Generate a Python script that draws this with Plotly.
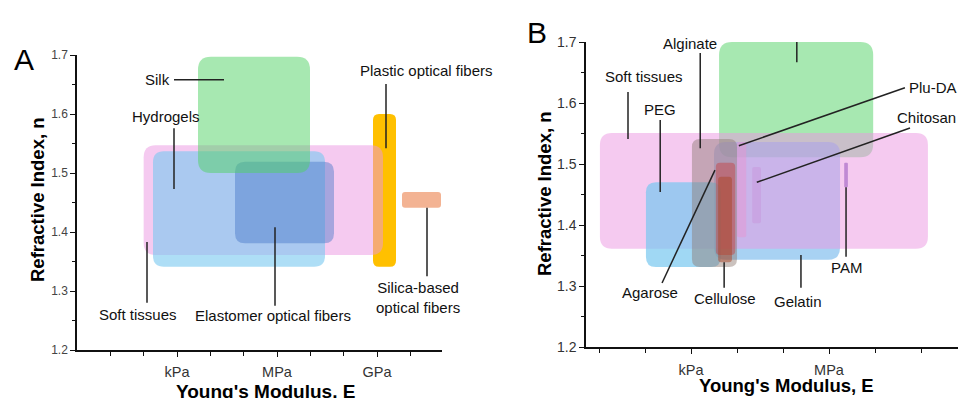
import plotly.graph_objects as go

W, H = 958, 398

# ---------------- DATA (E as log10(E / Pa), n = refractive index) ----------------
a_materials = ["Plastic optical fibers", "Soft tissues", "Hydrogels",
               "Elastomer optical fibers", "Silk", "Silica-based optical fibers"]
a_e_low = [8.88, 2.00, 2.28, 4.74, 3.63, 9.75]
a_e_high = [9.57, 9.18, 7.44, 7.71, 6.99, 10.92]
a_n_low = [1.341, 1.361, 1.341, 1.381, 1.500, 1.441]
a_n_high = [1.600, 1.547, 1.537, 1.519, 1.697, 1.468]

b_materials = ["Silk", "Gelatin", "Soft tissues", "PEG", "Alginate", "Agarose",
               "Cellulose", "Plu-DA", "Chitosan", "PAM"]
b_e_low = [3.61, 3.50, 1.02, 2.02, 3.02, 3.54, 3.59, 4.00, 4.33, 6.33]
b_e_high = [6.96, 6.24, 8.15, 3.65, 4.00, 3.96, 3.89, 4.20, 4.52, 6.41]
b_n_low = [1.511, 1.343, 1.361, 1.331, 1.331, 1.351, 1.339, 1.380, 1.403, 1.462]
b_n_high = [1.700, 1.536, 1.551, 1.470, 1.541, 1.502, 1.479, 1.536, 1.495, 1.502]

a_x_tickvals = [3, 6, 9]
a_x_ticktext = ["kPa", "MPa", "GPa"]
b_x_tickvals = [3, 6]
b_x_ticktext = ["kPa", "MPa"]
y_tickvals = [1.2, 1.3, 1.4, 1.5, 1.6, 1.7]
y_ticktext = ["1.2", "1.3", "1.4", "1.5", "1.6", "1.7"]

# ---------------- STYLE ----------------
style = {
    "Plastic optical fibers": ("rgb(255,192,0)", 6),
    "Soft tissues": ("rgba(235,150,225,0.5)", 12),
    "Hydrogels": ("rgba(120,200,240,0.6)", 11),
    "Elastomer optical fibers": ("rgba(70,120,200,0.45)", 10),
    "Silk": ("rgba(80,210,100,0.5)", 13),
    "Silica-based optical fibers": ("rgba(240,160,120,0.8)", 3),
    "Gelatin": ("rgba(110,180,235,0.6)", 12),
    "PEG": ("rgba(120,200,240,0.7)", 10),
    "Alginate": ("rgba(140,120,110,0.45)", 8),
    "Agarose": ("rgba(200,60,60,0.45)", 4),
    "Cellulose": ("rgba(170,70,40,0.5)", 3),
    "Plu-DA": ("rgba(230,150,210,0.5)", 2),
    "Chitosan": ("rgba(200,150,220,0.5)", 2),
    "PAM": ("rgba(170,110,200,0.7)", 1),
}

# axis geometry in pixels
A_X_PX = (77, 442); A_X_RANGE = (0.0, 10.95)
A_Y_PX = (55, 350)
B_X_PX = (586, 958); B_X_RANGE = (0.717, 8.804)
B_Y_PX = (42, 347)
Y_RANGE = (1.2, 1.7)


def dom_x(px):
    return [px[0] / W, px[1] / W]


def dom_y(py):
    return [1 - py[1] / H, 1 - py[0] / H]


def rounded(x0, x1, y0, y1, r_px, sx, sy):
    w_px = (x1 - x0) * sx
    h_px = (y1 - y0) * sy
    r = min(r_px, w_px / 2, h_px / 2)
    rx, ry = r / sx, r / sy
    return (f"M {x0+rx},{y0} L {x1-rx},{y0} Q {x1},{y0} {x1},{y0+ry} "
            f"L {x1},{y1-ry} Q {x1},{y1} {x1-rx},{y1} L {x0+rx},{y1} "
            f"Q {x0},{y1} {x0},{y1-ry} L {x0},{y0+ry} Q {x0},{y0} {x0+rx},{y0} Z")


fig = go.Figure()
fig.add_trace(go.Scatter(x=[], y=[], xaxis="x", yaxis="y", showlegend=False))
fig.add_trace(go.Scatter(x=[], y=[], xaxis="x2", yaxis="y2", showlegend=False))

shapes = []


def add_rects(names, lo, hi, nlo, nhi, xref, yref, xpx, xr, ypx):
    sx = (xpx[1] - xpx[0]) / (xr[1] - xr[0])
    sy = (ypx[1] - ypx[0]) / (Y_RANGE[1] - Y_RANGE[0])
    for nm, a, b, c, d in zip(names, lo, hi, nlo, nhi):
        col, r = style[nm]
        shapes.append(dict(type="path", xref=xref, yref=yref,
                           path=rounded(a, b, c, d, r, sx, sy),
                           fillcolor=col, line=dict(width=0), layer="above"))


add_rects(a_materials, a_e_low, a_e_high, a_n_low, a_n_high, "x", "y",
          A_X_PX, A_X_RANGE, A_Y_PX)
add_rects(b_materials, b_e_low, b_e_high, b_n_low, b_n_high, "x2", "y2",
          B_X_PX, B_X_RANGE, B_Y_PX)

# labels: (text, x, y, xanchor, leader line)
a_labels = [
    ("Silk", 2.40, 1.658, "center", (2.91, 1.658, 4.41, 1.658)),
    ("Hydrogels", 2.67, 1.595, "center", (2.91, 1.576, 2.91, 1.473)),
    ("Plastic optical fibers", 10.47, 1.673, "center", (9.27, 1.651, 9.27, 1.542)),
    ("Silica-based<br>optical fibers", 10.23, 1.289, "center", (10.5, 1.441, 10.5, 1.325)),
    ("Soft tissues", 1.83, 1.261, "center", (2.10, 1.383, 2.10, 1.280)),
    ("Elastomer optical fibers", 5.88, 1.259, "center", (5.94, 1.408, 5.94, 1.275)),
]
b_labels = [
    ("Soft tissues", 1.98, 1.643, "center", (1.63, 1.618, 1.63, 1.541)),
    ("PEG", 2.33, 1.589, "center", (2.33, 1.572, 2.33, 1.454)),
    ("Alginate", 2.98, 1.698, "center", (3.20, 1.682, 3.20, 1.526)),
    ("Silk", 5.30, 1.736, "center", (5.30, 1.723, 5.30, 1.667)),
    ("Plu-DA", 7.70, 1.626, "left", (7.65, 1.625, 4.04, 1.530)),
    ("Chitosan", 7.43, 1.577, "left", (7.76, 1.559, 4.43, 1.470)),
    ("Agarose", 2.11, 1.289, "center", (2.37, 1.305, 3.52, 1.490)),
    ("Cellulose", 3.74, 1.279, "center", (3.72, 1.339, 3.72, 1.297)),
    ("Gelatin", 5.33, 1.275, "center", (5.39, 1.351, 5.39, 1.297)),
    ("PAM", 6.39, 1.330, "center", (6.37, 1.462, 6.37, 1.348)),
]

annotations = []
FONT = "Liberation Sans, Arial, sans-serif"
for labels, xref, yref in ((a_labels, "x", "y"), (b_labels, "x2", "y2")):
    for text, x, y, anc, ln in labels:
        annotations.append(dict(text=text, x=x, y=y, xref=xref, yref=yref,
                                xanchor=anc, yanchor="middle", showarrow=False,
                                font=dict(family=FONT, size=15, color="#111")))
        shapes.append(dict(type="line", xref=xref, yref=yref,
                           x0=ln[0], y0=ln[1], x1=ln[2], y1=ln[3],
                           line=dict(color="#222", width=1.5), layer="above"))


def pap(px, py):
    return px / W, 1 - py / H


for txt, px, py, size, bold, ang in [
    ("A", 24, 60, 30, False, 0),
    ("B", 537, 33, 30, False, 0),
    ("Refractive Index, n", 38, 200, 18.5, True, -90),
    ("Refractive Index, n", 544, 194, 18.5, True, -90),
    ("Young's Modulus, E", 265, 391, 19, True, 0),
    ("Young's Modulus, E", 786, 385, 18.5, True, 0),
]:
    x, y = pap(px, py)
    annotations.append(dict(text=f"<b>{txt}</b>" if bold else txt, x=x, y=y,
                            xref="paper", yref="paper", xanchor="center",
                            yanchor="middle", showarrow=False, textangle=ang,
                            font=dict(family=FONT, size=size, color="#000")))

axis_common = dict(showgrid=False, zeroline=False, showline=True,
                   linecolor="#111", linewidth=1.5, ticks="outside",
                   tickcolor="#111", tickwidth=1.2, ticklen=5, automargin=False)

fig.update_layout(
    width=W, height=H, margin=dict(l=0, r=0, t=0, b=0, pad=0, autoexpand=False),
    paper_bgcolor="white", plot_bgcolor="rgba(0,0,0,0)",
    showlegend=False,
    xaxis=dict(domain=dom_x(A_X_PX), range=list(A_X_RANGE), anchor="y",
               tickvals=a_x_tickvals, ticktext=a_x_ticktext,
               tickfont=dict(family=FONT, size=14.5, color="#333"),
               ticklabelstandoff=3,
               minor=dict(tickvals=list(range(1, 11)), ticks="outside",
                          ticklen=4, tickcolor="#111", tickwidth=1.2),
               **axis_common),
    yaxis=dict(domain=dom_y(A_Y_PX), range=list(Y_RANGE), anchor="x",
               tickvals=y_tickvals, ticktext=y_ticktext,
               tickfont=dict(family=FONT, size=12, color="#444"),
               minor=dict(dtick=0.05, tick0=1.2, ticks="outside", ticklen=3,
                          tickcolor="#111", tickwidth=1.2),
               **axis_common),
    xaxis2=dict(domain=dom_x(B_X_PX), range=list(B_X_RANGE), anchor="y2",
                tickvals=b_x_tickvals, ticktext=b_x_ticktext,
                tickfont=dict(family=FONT, size=14.5, color="#333"),
                ticklabelstandoff=4,
                minor=dict(tickvals=list(range(1, 9)), ticks="outside",
                           ticklen=4, tickcolor="#111", tickwidth=1.2),
                **axis_common),
    yaxis2=dict(domain=dom_y(B_Y_PX), range=list(Y_RANGE), anchor="x2",
                tickvals=y_tickvals, ticktext=y_ticktext,
                tickfont=dict(family=FONT, size=14, color="#333"),
                minor=dict(dtick=0.05, tick0=1.2, ticks="outside", ticklen=3,
                           tickcolor="#111", tickwidth=1.2),
                **axis_common),
    shapes=shapes,
    annotations=annotations,
)

POST = (
    "document.body.style.margin='0';"
    "var gd=document.querySelector('.plotly-graph-div');"
    "gd.style.position='fixed';gd.style.top='0px';gd.style.left='0px';"
)

fig.write_html("out.html", config={"displayModeBar": False}, post_script=POST)
